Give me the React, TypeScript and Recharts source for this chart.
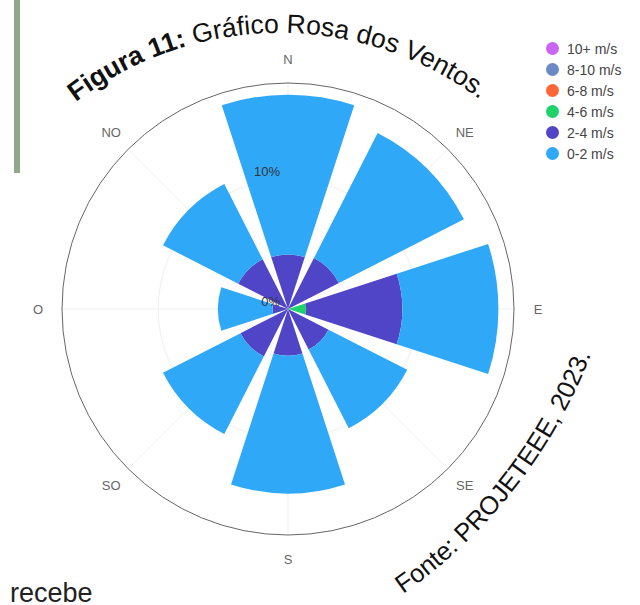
import { RadialBarChart, RadialBar, PolarAngleAxis, PolarRadiusAxis, PolarGrid } from 'recharts'

// wind directions (PT-BR), their bearings, and frequency (%) per speed class, innermost class first
const directions = ['N', 'NE', 'E', 'SE', 'S', 'SO', 'O', 'NO']
const bearings = [0, 45, 90, 135, 180, 225, 270, 315]
const speed10plus = [0, 0, 0, 0, 0, 0, 0, 0]
const speed8to10 = [0, 0, 0, 0, 0, 0, 0, 0]
const speed6to8 = [0, 0, 0, 0, 0, 0, 0, 0]
const speed4to6 = [0, 0, 1.4, 0, 0, 0, 0, 0]
const speed2to4 = [4.2, 4.4, 7.4, 3.5, 3.6, 4.1, 1.2, 4.3]
const speed0to2 = [12.3, 10.8, 7.4, 6.8, 10.6, 6.7, 4.2, 6.5]
const radiusTicks = [0, 10]

const series = [
  { key: 's10', name: '10+ m/s', color: '#c965f2', values: speed10plus },
  { key: 's8', name: '8-10 m/s', color: '#6b89c4', values: speed8to10 },
  { key: 's6', name: '6-8 m/s', color: '#ff6536', values: speed6to8 },
  { key: 's4', name: '4-6 m/s', color: '#1fd16c', values: speed4to6 },
  { key: 's2', name: '2-4 m/s', color: '#5045c6', values: speed2to4 },
  { key: 's0', name: '0-2 m/s', color: '#2fa8f8', values: speed0to2 },
]

const data = directions.map((dir, i) => {
  const row: Record<string, string | number> = { dir, bearing: bearings[i] }
  series.forEach((s) => {
    row[s.key] = s.values[i]
  })
  return row
})

const font = '"Liberation Sans", Arial, sans-serif'

function AngleTick({ x, y, payload }: any) {
  const label = directions[bearings.indexOf(payload.value)]
  return (
    <text x={x} y={y} textAnchor="middle" dominantBaseline="central" fontSize={13} fill="#666" fontFamily={font}>
      {label}
    </text>
  )
}

function RadiusTick({ x, y, payload }: any) {
  return (
    <text x={x - 8} y={y - 3} textAnchor="end" fontSize={13} fill="#333" fontFamily={font}>
      {`${payload.value}%`}
    </text>
  )
}

export default function App() {
  return (
    <div style={{ position: 'absolute', left: 0, top: 0, width: 640, height: 605, background: '#fff', overflow: 'hidden', fontFamily: font }}>
      <RadialBarChart
        width={640}
        height={605}
        data={data}
        layout="centric"
        cx={288}
        cy={309}
        innerRadius={0}
        outerRadius={226}
        startAngle={90}
        endAngle={-270}
        barCategoryGap="10%"
        margin={{ top: 0, right: 0, bottom: 0, left: 0 }}
      >
        <PolarGrid gridType="circle" stroke="#efefef" />
        <PolarAngleAxis
          dataKey="bearing"
          type="number"
          domain={[0, 360]}
          ticks={bearings}
          axisLineType="circle"
          axisLine={{ stroke: '#666' }}
          tickLine={false}
          tickSize={24}
          tick={AngleTick}
        />
        {series.map((s) => (
          <RadialBar key={s.key} dataKey={s.key} name={s.name} stackId="a" fill={s.color} isAnimationActive={false} />
        ))}
        <PolarRadiusAxis
          type="number"
          domain={[0, 17.4]}
          ticks={radiusTicks}
          angle={90}
          axisLine={false}
          tickLine={false}
          tick={RadiusTick}
        />
      </RadialBarChart>

      <svg width={640} height={605} style={{ position: 'absolute', left: 0, top: 0, pointerEvents: 'none' }}>
        <defs>
          <path id="titleArc" d="M 76 102 A 335 335 0 0 1 535 151" fill="none" />
          <path id="sourceArc" d="M 403 594 A 520 520 0 0 0 618 257" fill="none" />
        </defs>
        <rect x={14} y={0} width={6} height={173} fill="#8fa98a" />
        <text fontSize={26.5} fill="#111" fontFamily={font}>
          <textPath href="#titleArc">
            <tspan fontWeight="bold">Figura 11:</tspan> Gráfico Rosa dos Ventos.
          </textPath>
        </text>
        <text fontSize={25.5} fill="#111" fontFamily={font}>
          <textPath href="#sourceArc">Fonte: PROJETEEE, 2023.</textPath>
        </text>
        <text x={10} y={602} fontSize={27} fill="#222" fontFamily={font}>
          recebe
        </text>
      </svg>

      <div style={{ position: 'absolute', left: 546, top: 38 }}>
        {series.map((s) => (
          <div key={s.key} style={{ display: 'flex', alignItems: 'center', height: 21, fontSize: 14, color: '#444' }}>
            <span style={{ width: 13, height: 13, borderRadius: '50%', background: s.color, marginRight: 8 }} />
            {s.name}
          </div>
        ))}
      </div>
    </div>
  )
}
